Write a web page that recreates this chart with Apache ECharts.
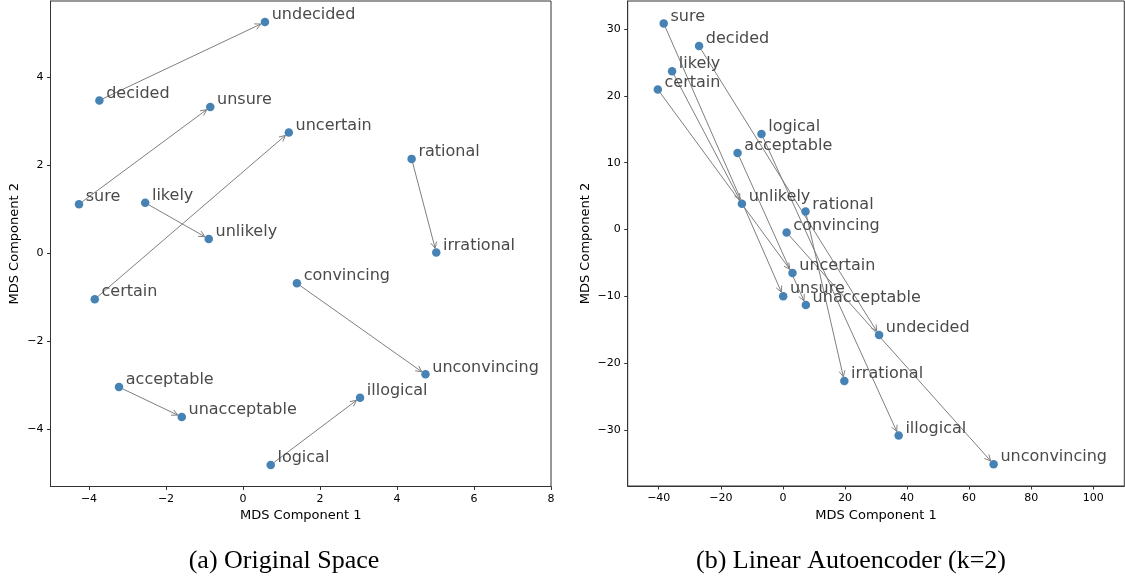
<!DOCTYPE html>
<html>
<head>
<meta charset="utf-8">
<script src="https://cdn.jsdelivr.net/npm/echarts@6/dist/echarts.min.js"></script>
<style>
html,body{margin:0;padding:0;background:#fff;}
#c{width:1125px;height:577px;}
</style>
</head>
<body>
<div id="c"></div>
<script>
// ---- data ----
const words = ['undecided','decided','unsure','uncertain','rational','sure','likely','unlikely',
  'irrational','convincing','certain','unconvincing','acceptable','illogical','unacceptable','logical'];
// (a) Original Space
const origX = [0.57, -3.73, -0.85, 1.19, 4.38, -4.26, -2.54, -0.89, 5.02, 1.40, -3.85, 4.74, -3.22, 3.04, -1.59, 0.72];
const origY = [5.25, 3.47, 3.32, 2.74, 2.14, 1.11, 1.14, 0.32, 0.01, -0.69, -1.05, -2.76, -3.05, -3.29, -3.73, -4.82];
// (b) Linear Autoencoder (k=2)
const aeX = [31.0, -27.0, 0.1, 3.1, 7.3, -38.4, -35.7, -13.2, 19.8, 1.2, -40.3, 67.9, -14.6, 37.3, 7.4, -6.9];
const aeY = [-15.8, 27.45, -10.0, -6.5, 2.7, 30.85, 23.7, 3.85, -22.7, -0.45, 20.95, -35.15, 11.45, -30.85, -11.3, 14.3];
// arrow pairs: from -> to
const pairs = [['decided','undecided'],['sure','unsure'],['certain','uncertain'],['likely','unlikely'],
  ['rational','irrational'],['convincing','unconvincing'],['acceptable','unacceptable'],['logical','illogical']];
// tick labels
const leftXTicks = [-4, -2, 0, 2, 4, 6, 8];
const leftYTicks = [-4, -2, 0, 2, 4];
const rightXTicks = [-40, -20, 0, 20, 40, 60, 80, 100];
const rightYTicks = [-30, -20, -10, 0, 10, 20, 30];
const captions = ['(a) Original Space', '(b) Linear Autoencoder (k=2)'];

// ---- build ----
const chart = echarts.init(document.getElementById('c'), null, {renderer: 'canvas'});
const FONT = 'DejaVu Sans';
const minus = v => String(v).replace('-', '\u2212');

function pts(xs, ys) {
  return words.map((w, i) => ({name: w, value: [xs[i], ys[i]]}));
}
function arrows(xs, ys) {
  return pairs.map(([a, b]) => {
    const i = words.indexOf(a), j = words.indexOf(b);
    return [xs[i], ys[i], xs[j], ys[j]];
  });
}
function axis(idx, min, max, ticks, name, nameGap) {
  return {
    type: 'value', gridIndex: idx, min: min, max: max,
    name: name, nameLocation: 'middle', nameGap: nameGap,
    nameTextStyle: {fontFamily: FONT, fontSize: 13, color: '#000'},
    axisLine: {show: true, onZero: false, lineStyle: {color: '#333', width: 1}},
    axisTick: {show: true, inside: false, length: 3.5, customValues: ticks, lineStyle: {color: '#333', width: 1}},
    axisLabel: {show: true, customValues: ticks, margin: 7, fontFamily: FONT, fontSize: 11, color: '#000',
      formatter: v => minus(v), showMinLabel: true, showMaxLabel: true},
    splitLine: {show: false}
  };
}
function renderArrow(params, api) {
  const p1 = api.coord([api.value(0), api.value(1)]);
  const p2 = api.coord([api.value(2), api.value(3)]);
  const dx = p2[0] - p1[0], dy = p2[1] - p1[1];
  const len = Math.sqrt(dx * dx + dy * dy);
  const ux = dx / len, uy = dy / len;
  const nx = -uy, ny = ux;
  const sA = 4, sB = 4.5, hl = 6, hw = 3;
  const s = [p1[0] + ux * sA, p1[1] + uy * sA];
  const e = [p2[0] - ux * sB, p2[1] - uy * sB];
  const l = [e[0] - ux * hl + nx * hw, e[1] - uy * hl + ny * hw];
  const r = [e[0] - ux * hl - nx * hw, e[1] - uy * hl - ny * hw];
  const st = {stroke: '#7f7f7f', lineWidth: 1, fill: null};
  return {type: 'group', children: [
    {type: 'line', shape: {x1: s[0], y1: s[1], x2: e[0], y2: e[1]}, style: st},
    {type: 'polyline', shape: {points: [l, e, r]}, style: st}
  ]};
}
function scatter(idx, xs, ys) {
  return {
    type: 'scatter', xAxisIndex: idx, yAxisIndex: idx, z: 3,
    data: pts(xs, ys), symbolSize: 8.5,
    itemStyle: {color: '#4682b4', opacity: 1},
    label: {show: true, formatter: p => p.name, position: 'right', distance: 2.5,
      verticalAlign: 'bottom', offset: [0, 1],
      fontFamily: FONT, fontSize: 16, color: '#4a4a4a'},
    emphasis: {disabled: true}, animation: false
  };
}
function arrowSeries(idx, xs, ys) {
  return {
    type: 'custom', xAxisIndex: idx, yAxisIndex: idx, z: 2,
    data: arrows(xs, ys), encode: {x: [0, 2], y: [1, 3]},
    renderItem: renderArrow, silent: true, animation: false
  };
}

const option = {
  animation: false,
  backgroundColor: '#fff',
  grid: [
    {left: 50.5, top: 1, width: 500.5, height: 485.5, show: true, borderColor: '#333', borderWidth: 1, containLabel: false},
    {left: 627.7, top: 1, width: 496.6, height: 485, show: true, borderColor: '#333', borderWidth: 1, containLabel: false}
  ],
  xAxis: [
    axis(0, -5, 8, leftXTicks, 'MDS Component 1', 22.5),
    axis(1, -50, 110, rightXTicks, 'MDS Component 1', 22.5)
  ],
  yAxis: [
    axis(0, -5.31, 5.73, leftYTicks, 'MDS Component 2', 29),
    axis(1, -38.4, 34.2, rightYTicks, 'MDS Component 2', 36)
  ],
  series: [
    arrowSeries(0, origX, origY),
    scatter(0, origX, origY),
    arrowSeries(1, aeX, aeY),
    scatter(1, aeX, aeY)
  ],
  graphic: [
    {type: 'text', x: 284, y: 561, style: {text: captions[0], font: '26px "Liberation Serif"', fill: '#000', align: 'center', verticalAlign: 'middle'}},
    {type: 'text', x: 851, y: 561, style: {text: captions[1], font: '26px "Liberation Serif"', fill: '#000', align: 'center', verticalAlign: 'middle'}}
  ]
};
chart.setOption(option);
</script>
</body>
</html>
